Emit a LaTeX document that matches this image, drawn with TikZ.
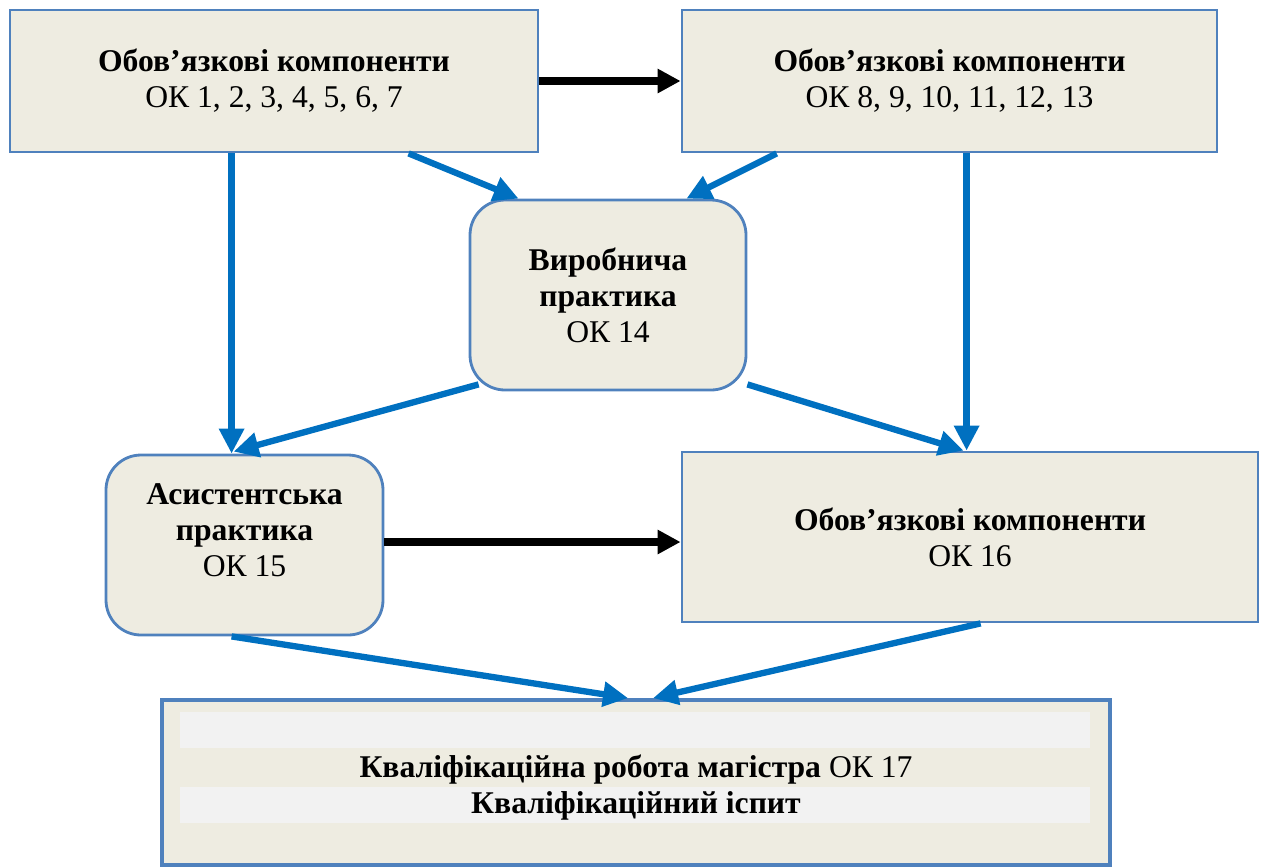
\documentclass[tikz,border=0pt]{standalone}
\usepackage{fontspec}
\setmainfont{Liberation Serif}
\usepackage{xcolor}
\usetikzlibrary{arrows.meta}

\definecolor{boxfill}{HTML}{EEECE1}
\definecolor{boxline}{HTML}{4F81BD}
\definecolor{flowblue}{HTML}{0070C0}
\definecolor{stripfill}{HTML}{F2F2F2}

\begin{document}
\begin{tikzpicture}[
	okbox/.style={draw=boxline,line width=1.6pt,fill=boxfill,inner sep=0pt,align=center,
		font=\fontsize{18}{20.5}\selectfont},
	okround/.style={okbox,rounded corners=0.7cm},
	blueflow/.style={flowblue,line width=3.6pt,-{Triangle[length=0.5cm,width=0.48cm]}},
	blackflow/.style={black,line width=4pt,-{Triangle[length=0.46cm,width=0.46cm]}}
]
	 \useasboundingbox (0,0) rectangle (25.32,-17.34);
	 % upper row
	 \node[okbox,minimum width=10.56cm,minimum height=2.84cm] (ok1) at (5.48,-1.62) {\textbf{Обов’язкові компоненти}\\ОК 1, 2, 3, 4, 5, 6, 7};
	 \node[okbox,minimum width=10.7cm,minimum height=2.84cm] (ok8) at (18.99,-1.62) {\textbf{Обов’язкові компоненти}\\ОК 8, 9, 10, 11, 12, 13};
	 % practices
	 \node[okround,minimum width=5.52cm,minimum height=3.8cm] (vyrob) at (12.16,-5.9) {\textbf{Виробнича}\\\textbf{практика}\\ОК 14};
	 \node[okround,minimum width=5.54cm,minimum height=3.6cm] (asyst) at (4.89,-10.9) {\begin{tabular}{@{}c@{}}\textbf{Асистентська}\\\textbf{практика}\\ОК 15\\[0.45cm]\end{tabular}};
	 \node[okbox,minimum width=11.52cm,minimum height=3.4cm] (ok16) at (19.4,-10.74) {\textbf{Обов’язкові компоненти}\\ОК 16};
	 % final box
	 \node[okbox,line width=2.2pt,minimum width=18.96cm,minimum height=3.3cm] (kval) at (12.72,-15.65) {};
	 \fill[stripfill] (3.6,-14.24) rectangle (21.8,-14.96);
	 \fill[stripfill] (3.6,-15.74) rectangle (21.8,-16.46);
	 \node[font=\fontsize{18}{20.5}\selectfont,align=center,anchor=center] (kvaltext) at (12.72,-15.76) {\textbf{Кваліфікаційна робота магістра} ОК 17\\\textbf{Кваліфікаційний іспит}};
	 % black arrows
	 \draw[blackflow] (ok1.east) -- (ok8.west);
	 \draw[blackflow] ([yshift=0.06cm]asyst.east) -- ([yshift=0.06cm]asyst.east -| ok16.west);
	 % blue arrows
	 \draw[blueflow] ([xshift=4.46cm]ok1.south west) -- ([xshift=4.46cm]ok1.south west |- asyst.north);
	 \draw[blueflow] ([xshift=5.72cm]ok8.south west) -- ([xshift=5.72cm]ok8.south west |- ok16.north);
	 \draw[blueflow] ([xshift=8cm]ok1.south west) -- ([xshift=1cm]vyrob.north west);
	 \draw[blueflow] ([xshift=1.92cm]ok8.south west) -- ([xshift=-1.22cm]vyrob.north east);
	 \draw[blueflow] ([xshift=0.2cm,yshift=0.14cm]vyrob.south west) -- ([xshift=2.58cm,yshift=0.04cm]asyst.north west);
	 \draw[blueflow] ([yshift=0.14cm]vyrob.south east) -- ([xshift=5.66cm]ok16.north west);
	 \draw[blueflow] ([xshift=2.54cm]asyst.south west) -- ([xshift=9.36cm]kval.north west);
	 \draw[blueflow] ([xshift=6cm]ok16.south west) -- ([xshift=9.86cm]kval.north west);
\end{tikzpicture}
\end{document}
